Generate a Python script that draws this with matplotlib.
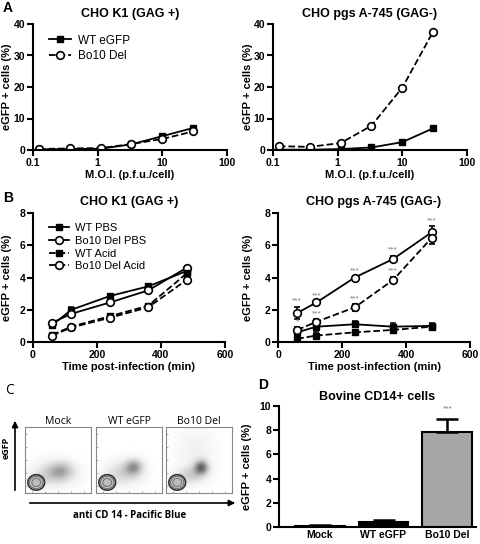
import numpy as np
import matplotlib.pyplot as plt
from matplotlib.lines import Line2D
from matplotlib.patches import FancyArrowPatch
from matplotlib.ticker import FixedLocator, NullLocator

plt.rcParams['font.family'] = ['Liberation Sans', 'DejaVu Sans']
plt.rcParams['font.weight'] = 'bold'

# ---- data -----------------------------------------------------------
moi = [0.123, 0.37, 1.11, 3.33, 10, 30]
a_k1_wt = [0.2, 0.3, 0.4, 1.8, 4.4, 7.0]
a_k1_bo10 = [0.3, 0.5, 0.6, 1.9, 3.5, 5.9]
a_745_wt = [0.1, 0.1, 0.3, 0.8, 2.5, 6.9]
a_745_bo10 = [1.2, 1.0, 2.2, 7.7, 19.8, 37.6]

times = [60, 120, 240, 360, 480]
b_k1_wt_pbs = [1.05, 2.0, 2.85, 3.45, 4.4]
b_k1_wt_pbs_err = [0.1, 0.2, 0.1, 0.1, 0.1]
b_k1_bo10_pbs = [1.2, 1.75, 2.45, 3.2, 4.6]
b_k1_bo10_pbs_err = [0.05, 0.1, 0.1, 0.1, 0.1]
b_k1_wt_acid = [0.45, 0.95, 1.6, 2.25, 4.25]
b_k1_wt_acid_err = [0.05, 0.05, 0.1, 0.1, 0.1]
b_k1_bo10_acid = [0.4, 0.9, 1.5, 2.15, 3.85]
b_k1_bo10_acid_err = [0.05, 0.05, 0.05, 0.1, 0.1]

b_745_wt_pbs = [0.6, 0.95, 1.1, 0.95, 1.0]
b_745_wt_pbs_err = [0.15, 0.3, 0.2, 0.25, 0.15]
b_745_bo10_pbs = [1.8, 2.45, 4.0, 5.15, 6.8]
b_745_bo10_pbs_err = [0.4, 0.1, 0.1, 0.2, 0.4]
b_745_wt_acid = [0.2, 0.4, 0.6, 0.75, 0.95]
b_745_wt_acid_err = [0.05, 0.05, 0.05, 0.1, 0.1]
b_745_bo10_acid = [0.75, 1.25, 2.15, 3.85, 6.45]
b_745_bo10_acid_err = [0.15, 0.15, 0.2, 0.2, 0.4]
stars_pbs = ['***', '***', '***', '***', '***']
stars_acid = ['*', '***', '***', '***', '']

flow_titles = ['Mock', 'WT eGFP', 'Bo10 Del']
# main population: centre x, centre y, spread x, spread y (axes fraction)
flow_main = [(0.17, 0.16, 0.065, 0.06), (0.17, 0.16, 0.065, 0.06), (0.17, 0.16, 0.065, 0.06)]
# diffuse populations: centre x, centre y, spread x, spread y, weight
flow_clouds = [
    [(0.44, 0.29, 0.22, 0.13, 0.3), (0.56, 0.36, 0.13, 0.1, 0.18)],
    [(0.42, 0.3, 0.2, 0.13, 0.25), (0.58, 0.4, 0.1, 0.09, 0.35)],
    [(0.38, 0.27, 0.16, 0.1, 0.25), (0.54, 0.39, 0.08, 0.08, 0.5), (0.45, 0.66, 0.22, 0.24, 0.1)],
]

d_cats = ['Mock', 'WT eGFP', 'Bo10 Del']
d_vals = [0.1, 0.42, 7.85]
d_err = [0.03, 0.12, 1.1]
d_colors = ['white', 'black', '#a6a6a6']

W, H = 480, 544


def box(x0, y_top, x1, y_bot):
    return [x0 / W, 1 - y_bot / H, (x1 - x0) / W, (y_bot - y_top) / H]


def style(ax):
    for s in ['top', 'right']:
        ax.spines[s].set_visible(False)
    for s in ['left', 'bottom']:
        ax.spines[s].set_linewidth(1.5)
    ax.tick_params(width=1.5, length=4, labelsize=7.5, pad=1.5)
    for lab in ax.get_xticklabels() + ax.get_yticklabels():
        lab.set_fontweight('bold')


fig = plt.figure(figsize=(4.8, 5.44), dpi=100)

wt_kw = dict(color='k', marker='s', ms=4.5, lw=1.3)
bo_kw = dict(color='k', marker='o', ms=5.5, mfc='white', mew=1.2, lw=1.3)

# ---- A ---------------------------------------------------------------
for i, (wt, bo, title) in enumerate([(a_k1_wt, a_k1_bo10, 'CHO K1 (GAG +)'),
                                     (a_745_wt, a_745_bo10, 'CHO pgs A-745 (GAG-)')]):
    x0 = 33 if i == 0 else 273
    ax = fig.add_axes(box(x0, 24, x0 + 194, 150))
    ax.plot(moi, wt, ls='-', label='WT eGFP', **wt_kw)
    ax.plot(moi, bo, ls='--', label='Bo10 Del', **bo_kw)
    ax.set_xscale('log')
    ax.set_xlim(0.1, 100)
    ax.set_ylim(0, 40)
    ax.xaxis.set_major_locator(FixedLocator([0.1, 1, 10, 100]))
    ax.xaxis.set_minor_locator(NullLocator())
    ax.set_xticklabels(['0.1', '1', '10', '100'])
    ax.set_yticks([0, 10, 20, 30, 40])
    ax.set_title(title, fontsize=9, fontweight='bold', pad=5)
    ax.set_xlabel('M.O.I. (p.f.u./cell)', fontsize=8, fontweight='bold', labelpad=2)
    ax.set_ylabel('eGFP + cells (%)', fontsize=8, fontweight='bold')
    ax.yaxis.set_label_coords((12 - 33) / 194 if i == 0 else (253 - 273) / 194, 0.5)
    style(ax)
    if i == 0:
        ax.legend(loc='upper left', bbox_to_anchor=(0.03, 1.0), frameon=False,
                  prop={'size': 8.5, 'weight': 'normal'}, handlelength=1.8,
                  handletextpad=0.6, labelspacing=0.3)

# ---- B ---------------------------------------------------------------
b_sets = [
    ('CHO K1 (GAG +)', 33, 12,
     [(b_k1_wt_pbs, b_k1_wt_pbs_err, 'WT PBS', '-', wt_kw),
      (b_k1_bo10_pbs, b_k1_bo10_pbs_err, 'Bo10 Del PBS', '-', bo_kw),
      (b_k1_wt_acid, b_k1_wt_acid_err, 'WT Acid', '--', wt_kw),
      (b_k1_bo10_acid, b_k1_bo10_acid_err, 'Bo10 Del Acid', '--', bo_kw)]),
    ('CHO pgs A-745 (GAG-)', 278, 253,
     [(b_745_wt_pbs, b_745_wt_pbs_err, 'WT PBS', '-', wt_kw),
      (b_745_bo10_pbs, b_745_bo10_pbs_err, 'Bo10 Del PBS', '-', bo_kw),
      (b_745_wt_acid, b_745_wt_acid_err, 'WT Acid', '--', wt_kw),
      (b_745_bo10_acid, b_745_bo10_acid_err, 'Bo10 Del Acid', '--', bo_kw)]),
]
for i, (title, x0, lab_x, series) in enumerate(b_sets):
    ax = fig.add_axes(box(x0, 213, x0 + 192, 342))
    handles = []
    for vals, err, lab, ls, kw in series:
        ax.errorbar(times, vals, yerr=err, ls=ls, capsize=2.5,
                    elinewidth=1.1, capthick=1.1, **kw)
        handles.append(Line2D([], [], ls=ls, label=lab, **kw))
    if i == 1:
        for t, v, e, s in zip(times, b_745_bo10_pbs, b_745_bo10_pbs_err, stars_pbs):
            ax.text(t, v + e + 0.12, s, ha='center', va='bottom', fontsize=6,
                    color='#777777', fontweight='normal')
        for t, v, e, s in zip(times, b_745_bo10_acid, b_745_bo10_acid_err, stars_acid):
            ax.text(t, v + e + 0.12, s, ha='center', va='bottom', fontsize=6,
                    color='#777777', fontweight='normal')
    ax.set_xlim(0, 600)
    ax.set_ylim(0, 8)
    ax.set_xticks([0, 200, 400, 600])
    ax.set_yticks([0, 2, 4, 6, 8])
    ax.set_title(title, fontsize=9, fontweight='bold', pad=6)
    ax.set_xlabel('Time post-infection (min)', fontsize=8, fontweight='bold', labelpad=2)
    ax.set_ylabel('eGFP + cells (%)', fontsize=8, fontweight='bold')
    ax.yaxis.set_label_coords((lab_x - x0) / 192, 0.5)
    style(ax)
    if i == 0:
        ax.legend(handles=handles, loc='upper left', bbox_to_anchor=(0.03, 1.0),
                  frameon=False, prop={'size': 8, 'weight': 'normal'},
                  handlelength=1.8, handletextpad=0.6, labelspacing=0.25)

# ---- C ---------------------------------------------------------------
gx, gy = np.meshgrid(np.linspace(0, 1, 150), np.linspace(0, 1, 150))
for k, left in enumerate([25, 96, 166]):
    ax = fig.add_axes(box(left, 427, left + 66, 493))
    cx, cy, sx, sy = flow_main[k]
    main = np.exp(-((gx - cx) ** 2 / (2 * sx ** 2) + (gy - cy) ** 2 / (2 * sy ** 2)))
    cloud = np.zeros_like(gx)
    for (qx, qy, rx, ry, w) in flow_clouds[k]:
        cloud += w * np.exp(-((gx - qx) ** 2 / (2 * rx ** 2) + (gy - qy) ** 2 / (2 * ry ** 2)))
    z = cloud + 0.6 * main
    ax.imshow(z, origin='lower', extent=[0, 1, 0, 1], cmap='Greys', vmin=0, vmax=0.9,
              aspect='auto', interpolation='bilinear')
    ax.contourf(gx, gy, main, levels=[0.3, 1.01], colors=['#bdbdbd'])
    ax.contour(gx, gy, main, levels=[0.15], colors=['#2a2a2a'], linewidths=1.1)
    ax.contour(gx, gy, main, levels=[0.3, 0.6], colors=['#555555'], linewidths=0.5)
    ax.set_xlim(0, 1)
    ax.set_ylim(0, 1)
    ax.set_xticks([0.1, 0.3, 0.5, 0.7, 0.9])
    ax.set_yticks([0.1, 0.3, 0.5, 0.7, 0.9])
    ax.set_xticklabels([])
    ax.set_yticklabels([])
    ax.tick_params(length=1.5, width=0.5, color='#888888', direction='in')
    for s in ax.spines.values():
        s.set_color('#888888')
        s.set_linewidth(0.8)
    ax.set_title(flow_titles[k], fontsize=7.5, fontweight='normal', pad=2,
                 family=['Open Sans', 'DejaVu Sans'])

fig.add_artist(FancyArrowPatch((15 / W, 1 - 493 / H), (15 / W, 1 - 418 / H),
                               transform=fig.transFigure, arrowstyle='-|>',
                               mutation_scale=9, lw=1.2, color='k'))
fig.add_artist(FancyArrowPatch((27 / W, 1 - 503 / H), (238 / W, 1 - 503 / H),
                               transform=fig.transFigure, arrowstyle='-|>',
                               mutation_scale=9, lw=1.2, color='k'))
fig.text(6 / W, 1 - 448 / H, 'eGFP', rotation=90, ha='center', va='center',
         fontsize=6.5, fontweight='bold', family=['Open Sans', 'DejaVu Sans'])
fig.text(130 / W, 1 - 516 / H, 'anti CD 14 - Pacific Blue', ha='center', va='center',
         fontsize=7, fontweight='bold', family=['Open Sans', 'DejaVu Sans'])

# ---- D ---------------------------------------------------------------
ax = fig.add_axes(box(279, 406, 476, 527))
pos = np.arange(len(d_cats))
ax.bar(pos, d_vals, width=0.78, color=d_colors, edgecolor='k', linewidth=1.5,
       yerr=[[0] * len(d_err), d_err], capsize=8,
       error_kw=dict(elinewidth=1.8, capthick=1.8, ecolor='k'))
ax.text(pos[2], d_vals[2] + d_err[2] + 0.5, '***', ha='center', va='bottom',
        fontsize=6, color='#777777', fontweight='normal')
ax.set_xlim(-0.64, 2.45)
ax.set_ylim(0, 10)
ax.set_yticks([0, 2, 4, 6, 8, 10])
ax.set_xticks(pos)
ax.set_xticklabels(d_cats)
ax.set_title('Bovine CD14+ cells', fontsize=9, fontweight='bold', pad=4)
ax.set_ylabel('eGFP + cells (%)', fontsize=8, fontweight='bold')
ax.yaxis.set_label_coords((252 - 279) / 197, 0.5)
style(ax)
ax.tick_params(axis='x', length=0, pad=2)

# ---- panel letters --------------------------------------------------
fig.text(3 / W, 1 - 8 / H, 'A', fontsize=10, fontweight='bold', va='center')
fig.text(3 / W, 1 - 198 / H, 'B', fontsize=10, fontweight='bold', va='center')
fig.text(5 / W, 1 - 390 / H, 'C', fontsize=10, fontweight='normal', va='center',
         family=['Open Sans', 'DejaVu Sans'])
fig.text(258 / W, 1 - 385 / H, 'D', fontsize=10, fontweight='bold', va='center')

fig.savefig('out.png', dpi=100)
